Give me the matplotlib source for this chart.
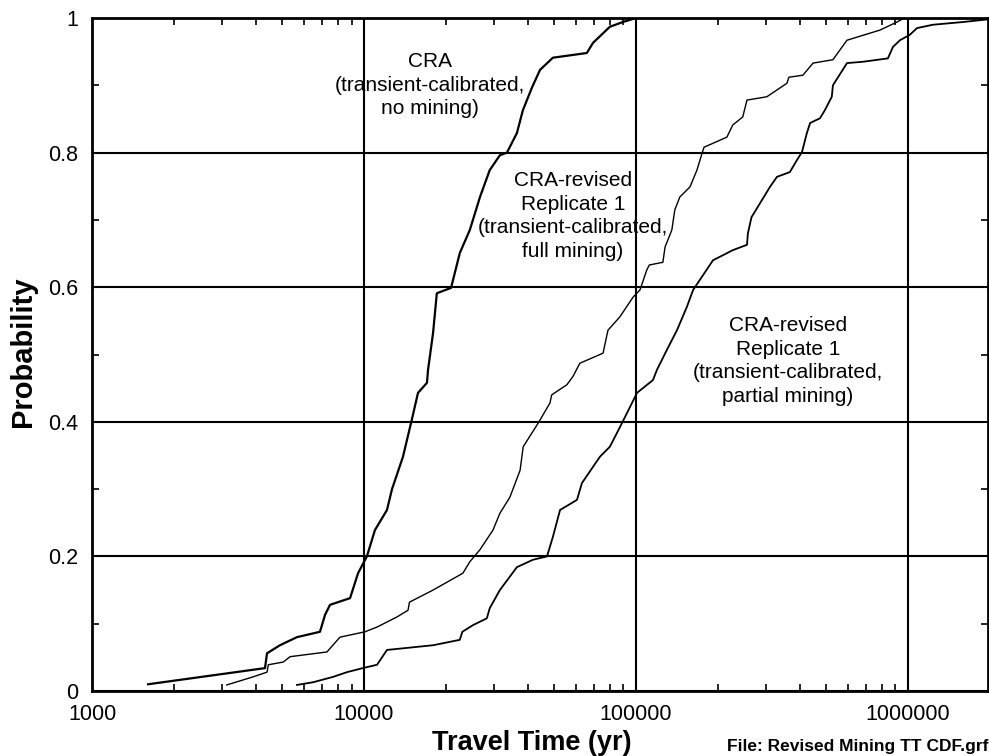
import numpy as np
import matplotlib.pyplot as plt
from matplotlib.ticker import FixedLocator, NullFormatter

plt.rcParams['font.family'] = ['Liberation Sans', 'DejaVu Sans']

# CRA, transient-calibrated, no mining
cra_t = [1607, 4326, 4400, 4910, 5670, 6890, 7190, 7500, 8890, 9510, 10250,
         10970, 12150, 12680, 13910, 14990, 15800, 17050, 17200, 17950, 18530,
         20900, 22520, 24500, 26700, 29000, 31600, 33550, 36500, 38400, 41500,
         44400, 49500, 66000, 69500, 80200, 89500, 100000]
cra_p = [0.010, 0.034, 0.056, 0.068, 0.080, 0.088, 0.113, 0.128, 0.138, 0.175,
         0.200, 0.239, 0.269, 0.300, 0.348, 0.403, 0.443, 0.458, 0.477, 0.532,
         0.591, 0.599, 0.651, 0.685, 0.734, 0.774, 0.796, 0.800, 0.829, 0.863,
         0.897, 0.923, 0.941, 0.948, 0.963, 0.987, 0.994, 1.0]

# CRA-revised replicate 1, full mining
full_t = [3130, 3910, 4400, 4450, 5050, 5350, 7310, 8160, 10090, 11170, 13220,
          14520, 14700, 17950, 23100, 24500, 26700, 29800, 31600, 34400, 37500,
          38500, 43700, 48300, 49000, 55700, 58600, 62200, 75700, 78900, 87300,
          97500, 103500, 109700, 112000, 125600, 128000, 135500, 139000, 145000,
          158000, 167600, 175000, 178000, 216000, 227000, 247000, 256000,
          303000, 359000, 365000, 411000, 448000, 530000, 597000, 789000,
          912000, 960000]
full_p = [0.009, 0.021, 0.028, 0.039, 0.043, 0.051, 0.058, 0.080, 0.088, 0.095,
          0.110, 0.120, 0.132, 0.150, 0.175, 0.192, 0.210, 0.239, 0.264, 0.288,
          0.328, 0.363, 0.398, 0.428, 0.440, 0.455, 0.467, 0.487, 0.502, 0.536,
          0.556, 0.585, 0.596, 0.626, 0.633, 0.637, 0.660, 0.685, 0.715, 0.734,
          0.749, 0.774, 0.799, 0.808, 0.823, 0.841, 0.853, 0.878, 0.883, 0.903,
          0.912, 0.915, 0.933, 0.938, 0.967, 0.982, 0.994, 0.999]

# CRA-revised replicate 1, partial mining
part_t = [5670, 6500, 7700, 8660, 9900, 11170, 12150, 17950, 22500, 23000,
          25200, 28300, 29000, 31600, 36500, 41800, 47100, 49500, 52600, 60700,
          63300, 73700, 80200, 87300, 92700, 100900, 115500, 119400, 130000,
          141500, 154000, 162300, 192000, 227000, 256000, 258000, 266000,
          311000, 330000, 368000, 391000, 408000, 425000, 437000, 475000,
          495000, 525000, 530000, 597000, 684000, 844000, 881000, 935000,
          1016000, 1080000, 1236000, 1592000, 1970000]
part_p = [0.009, 0.013, 0.021, 0.028, 0.034, 0.039, 0.061, 0.068, 0.076, 0.088,
          0.098, 0.108, 0.123, 0.150, 0.184, 0.195, 0.200, 0.229, 0.269, 0.284,
          0.309, 0.348, 0.363, 0.392, 0.413, 0.443, 0.462, 0.477, 0.507, 0.536,
          0.571, 0.596, 0.640, 0.655, 0.663, 0.680, 0.704, 0.749, 0.764, 0.771,
          0.789, 0.801, 0.829, 0.844, 0.851, 0.863, 0.883, 0.900, 0.933, 0.935,
          0.940, 0.957, 0.967, 0.975, 0.985, 0.990, 0.994, 0.998]

x_ticks = [1000, 10000, 100000, 1000000]
x_labels = ['1000', '10000', '100000', '1000000']
y_ticks = [0, 0.2, 0.4, 0.6, 0.8, 1.0]
y_labels = ['0', '0.2', '0.4', '0.6', '0.8', '1']

W, H = 989, 756
fig = plt.figure(figsize=(W / 100, H / 100), dpi=100)
ax = fig.add_axes([92 / W, 1 - 691 / H, (988 - 92) / W, (691 - 18) / H])

ax.plot(cra_t, cra_p, color='black', lw=1.6)
ax.plot(full_t, full_p, color='black', lw=1.0)
ax.plot(part_t, part_p, color='black', lw=1.3)

ax.set_xscale('log')
ax.set_xlim(1000, 1.97e6)
ax.set_ylim(0, 1)

ax.set_xticks(x_ticks)
ax.set_xticklabels(x_labels)
ax.set_yticks(y_ticks)
ax.set_yticklabels(y_labels)
minor_x = [m * 10 ** e for e in range(3, 7) for m in range(2, 10)]
ax.xaxis.set_minor_locator(FixedLocator(minor_x))
ax.xaxis.set_minor_formatter(NullFormatter())
ax.yaxis.set_minor_locator(FixedLocator([0.1, 0.3, 0.5, 0.7, 0.9]))

ax.tick_params(which='major', length=0, labelsize=15.5)
ax.tick_params(axis='x', which='major', pad=9)
ax.tick_params(axis='y', which='major', pad=10)
ax.tick_params(which='minor', direction='in', length=5, width=1.2,
               top=True, right=True)
ax.grid(True, which='major', color='black', lw=1.5)
for s in ax.spines.values():
    s.set_linewidth(2)

ax.text(17500, 0.90, 'CRA\n(transient-calibrated,\nno mining)',
        ha='center', va='center', fontsize=15, linespacing=1.3)
ax.text(58600, 0.706, 'CRA-revised\nReplicate 1\n(transient-calibrated,\nfull mining)',
        ha='center', va='center', fontsize=15, linespacing=1.3)
ax.text(362000, 0.49, 'CRA-revised\nReplicate 1\n(transient-calibrated,\npartial mining)',
        ha='center', va='center', fontsize=15, linespacing=1.3)

fig.text(23 / W, 1 - 352 / H, 'Probability', rotation=90, ha='center',
         va='center', fontsize=21, fontweight='bold')
fig.text(532 / W, 1 - 743 / H, 'Travel Time (yr)', ha='center', va='center',
         fontsize=19.5, fontweight='bold')
fig.text(988 / W, 1 - 747 / H, 'File: Revised Mining TT CDF.grf', ha='right',
         va='center', fontsize=12.5, fontweight='bold')

fig.savefig('out.png', dpi=100)
